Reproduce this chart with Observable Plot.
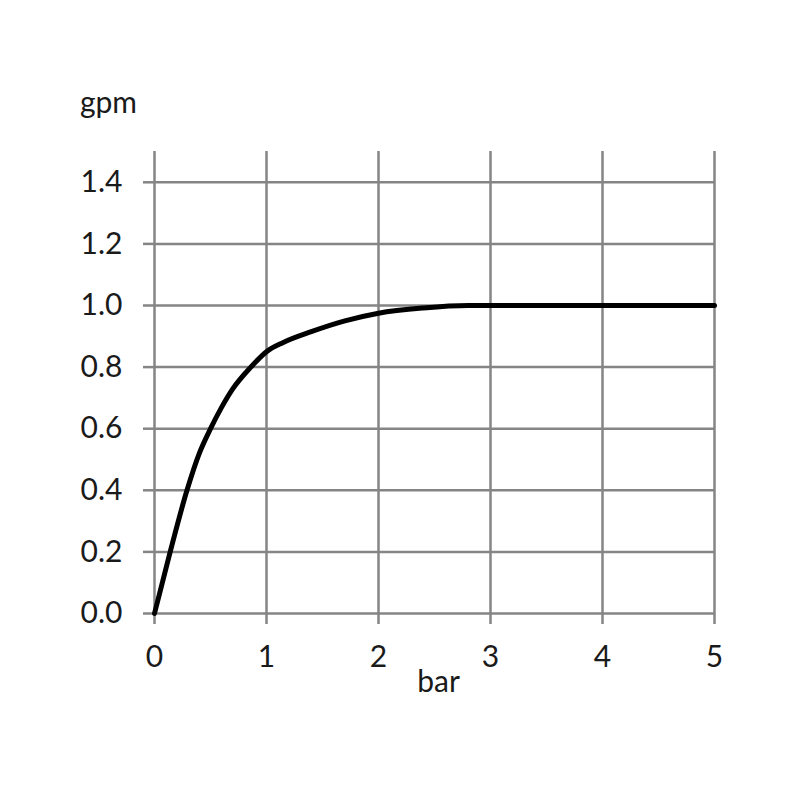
<!DOCTYPE html>
<html>
<head>
<meta charset="utf-8">
<script src="https://cdn.jsdelivr.net/npm/d3@7"></script>
<script src="https://cdn.jsdelivr.net/npm/@observablehq/plot@0.6"></script>
<style>
  html, body { margin: 0; padding: 0; background: #fff; }
  #chart { width: 800px; height: 800px; }
</style>
</head>
<body>
<div id="chart"></div>
<script>
const pressure = [0, 0.14, 0.29, 0.4, 0.5, 0.6, 0.7, 0.86, 1.0, 1.15, 1.4, 1.7, 2.0, 2.4, 2.8, 3.2, 4.0, 5.0];
const flow     = [0, 0.2, 0.4, 0.52, 0.6, 0.67, 0.73, 0.8, 0.85, 0.88, 0.915, 0.95, 0.975, 0.992, 1.0, 1.0, 1.0, 1.0];
const xTicks = [0, 1, 2, 3, 4, 5];
const yTicks = [0, 0.2, 0.4, 0.6, 0.8, 1.0, 1.2, 1.4];
const xLabel = "bar";
const yLabel = "gpm";

const data = pressure.map((p, i) => ({p, q: flow[i]}));
const gridColor = "#858585";
const font = "Lato, 'Open Sans', sans-serif";
const fs = 30;

const chart = Plot.plot({
  width: 800,
  height: 800,
  marginLeft: 154,
  marginRight: 86,
  marginTop: 151,
  marginBottom: 187,
  style: {fontFamily: font, fontSize: fs + "px", color: "#1a1a1a", background: "#fff"},
  x: {domain: [0, 5]},
  y: {domain: [0, 1.5]},
  marks: [
    Plot.gridX(xTicks, {stroke: gridColor, strokeOpacity: 1, strokeWidth: 2.5}),
    Plot.gridY(yTicks, {stroke: gridColor, strokeOpacity: 1, strokeWidth: 2.5}),
    Plot.axisX(xTicks, {tickSize: 11, tickPadding: 21, stroke: gridColor, strokeWidth: 2.5, fill: "#1a1a1a", fontSize: fs, label: null, tickFormat: d3.format("d")}),
    Plot.axisY(yTicks, {tickSize: 11, tickPadding: 21, stroke: gridColor, strokeWidth: 2.5, fill: "#1a1a1a", fontSize: fs, label: null, tickFormat: d3.format(".1f")}),
    Plot.line(data, {x: "p", y: "q", stroke: "#000", strokeWidth: 5, curve: "monotone-x"}),
    Plot.text([xLabel], {frameAnchor: "bottom", dx: 4, dy: 78, text: d => d, fontSize: fs, fill: "#1a1a1a"}),
    Plot.text([yLabel], {frameAnchor: "top-left", dx: -46, dy: -60, text: d => d, fontSize: fs, fill: "#1a1a1a", textAnchor: "middle"})
  ]
});
document.getElementById("chart").appendChild(chart);
</script>
</body>
</html>
